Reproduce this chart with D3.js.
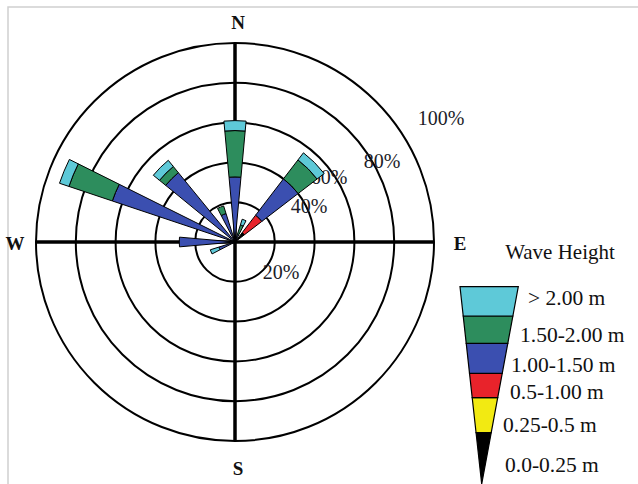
<!DOCTYPE html>
<html><head><meta charset="utf-8">
<script src="https://cdn.jsdelivr.net/npm/d3@7"></script>
<style>body{margin:0;background:#fff}svg{display:block}</style>
</head><body><svg id="c" width="638" height="484"></svg>
<script>
// ---- data ----
const directions = ["N","NNE","NE","ENE","E","ESE","SE","SSE","S","SSW","SW","WSW","W","WNW","NW","NNW"];
const heightClasses = ["0.0-0.25 m","0.25-0.5 m","0.5-1.00 m","1.00-1.50 m","1.50-2.00 m","> 2.00 m"];
// percentage (stacked) per direction for each wave-height class
const h000_025 = [0,0,6,0,0,0,0,0,0,0,0,0,0,0,0,0];
const h025_050 = [0,0,0,0,0,0,0,0,0,0,0,0,0,0,0,0];
const h050_100 = [0,0,11,0,0,0,0,0,0,0,0,0,0,0,0,0];
const h100_150 = [32.7,4,23,0,0,0,0,0,0,0,0,8.5,28,65,45,15];
const h150_200 = [23.3,5,12,0,0,0,0,0,0,0,0,0,0,23,4,4];
const h200_up  = [5,3,4.5,0,0,0,0,0,0,0,0,4.5,0,5,4,0];
const ringTicks = [20,40,60,80,100];
const ringLabels = ["20%","40%","60%","80%","100%"];
const compassLabels = ["N","E","S","W"];
const legendTitle = "Wave Height";

// ---- style / layout ----
const classColors = ["#000000","#f2ea12","#e8232b","#3b4fb0","#2d8d5d","#5ec9d8"];
const wedgeWidthDeg = [10.5,10,15,10,10,10,10,10,10,10,10,10,10,8,11.5,10];
const cx = 235, cy = 242, R = 199;
const ringLabelOffsets = [[46,30],[74,-36],[94,-65],[147,-81],[206,-124]];
const compassPos = [[238,22],[460,243],[238,468],[15,243]];

const svg = d3.select("#c");
svg.append("rect").attr("x",8).attr("y",7).attr("width",700).attr("height",600)
  .attr("fill","#fff").attr("stroke","#cfcfcf").attr("stroke-width",1.5);

const r = d3.scaleLinear().domain([0,100]).range([0,R]);
const ang = d3.scaleBand().domain(directions).range([0,360]);
const g = svg.append("g").attr("transform",`translate(${cx},${cy})`);

// rings
g.selectAll("circle.ring").data(ringTicks).enter().append("circle")
  .attr("r",d=>r(d)).attr("fill","none").attr("stroke","#000").attr("stroke-width",2);
// axes
g.append("line").attr("x1",-r(100)).attr("x2",r(100)).attr("y1",0).attr("y2",0)
  .attr("stroke","#000").attr("stroke-width",3.5);
g.append("line").attr("y1",-r(100)).attr("y2",r(100)).attr("x1",0).attr("x2",0)
  .attr("stroke","#000").attr("stroke-width",3.5);
// ring labels
g.selectAll("text.rl").data(ringLabels).enter().append("text")
  .attr("x",(d,i)=>ringLabelOffsets[i][0]).attr("y",(d,i)=>ringLabelOffsets[i][1])
  .attr("text-anchor","middle").attr("dominant-baseline","central")
  .attr("font-family","'Liberation Serif', serif").attr("font-size",20).attr("fill","#1c1c28")
  .text(d=>d);

// bars
const series = [h000_025,h025_050,h050_100,h100_150,h150_200,h200_up];
const segs = [];
directions.forEach((dir,i)=>{
  let acc = 0;
  series.forEach((s,k)=>{
    const v = s[i];
    if (v > 0) { segs.push({dir, i, k, y0: acc, y1: acc+v}); acc += v; }
  });
});
const arc = d3.arc()
  .innerRadius(d=>r(d.y0)).outerRadius(d=>r(d.y1))
  .startAngle(d=>(ang(d.dir)-wedgeWidthDeg[d.i]/2)*Math.PI/180)
  .endAngle(d=>(ang(d.dir)+wedgeWidthDeg[d.i]/2)*Math.PI/180);
g.selectAll("path.bar").data(segs).enter().append("path")
  .attr("d",arc).attr("fill",d=>classColors[d.k]).attr("stroke","#000").attr("stroke-width",1);

// compass labels
svg.selectAll("text.cp").data(compassLabels).enter().append("text")
  .attr("x",(d,i)=>compassPos[i][0]).attr("y",(d,i)=>compassPos[i][1])
  .attr("text-anchor","middle").attr("dominant-baseline","central")
  .attr("font-family","'Liberation Serif', serif").attr("font-weight","bold").attr("font-size",19)
  .attr("fill","#111").text(d=>d);

// legend
svg.append("text").attr("x",560).attr("y",252).attr("text-anchor","middle").attr("dominant-baseline","central")
  .attr("font-family","'Liberation Serif', serif").attr("font-size",21).attr("fill","#111").text(legendTitle);
const topL = [460,286.7], topR = [518.3,286.7], tip = [481.7,484];
const bounds = [484,432.7,397.7,373.3,343.3,316,286.7]; // bottom of class k is bounds[k], top bounds[k+1]
const xl = d3.scaleLinear().domain([topL[1],tip[1]]).range([topL[0],tip[0]]);
const xr = d3.scaleLinear().domain([topR[1],tip[1]]).range([topR[0],tip[0]]);
const lg = svg.append("g");
heightClasses.forEach((c,k)=>{
  const yb = bounds[k], yt = bounds[k+1];
  lg.append("path").attr("d",`M${xl(yt)},${yt}L${xr(yt)},${yt}L${xr(yb)},${yb}L${xl(yb)},${yb}Z`)
    .attr("fill",classColors[k]).attr("stroke","#000").attr("stroke-width",1.2);
});
const legLabelPos = [[505,465],[503,425],[510,392],[511,365],[520,335],[528,298]];
lg.selectAll("text").data(heightClasses).enter().append("text")
  .attr("x",(d,k)=>legLabelPos[k][0]).attr("y",(d,k)=>legLabelPos[k][1])
  .attr("dominant-baseline","central")
  .attr("font-family","'Liberation Serif', serif").attr("font-size",21.5).attr("fill","#111").text(d=>d);
</script></body></html>
